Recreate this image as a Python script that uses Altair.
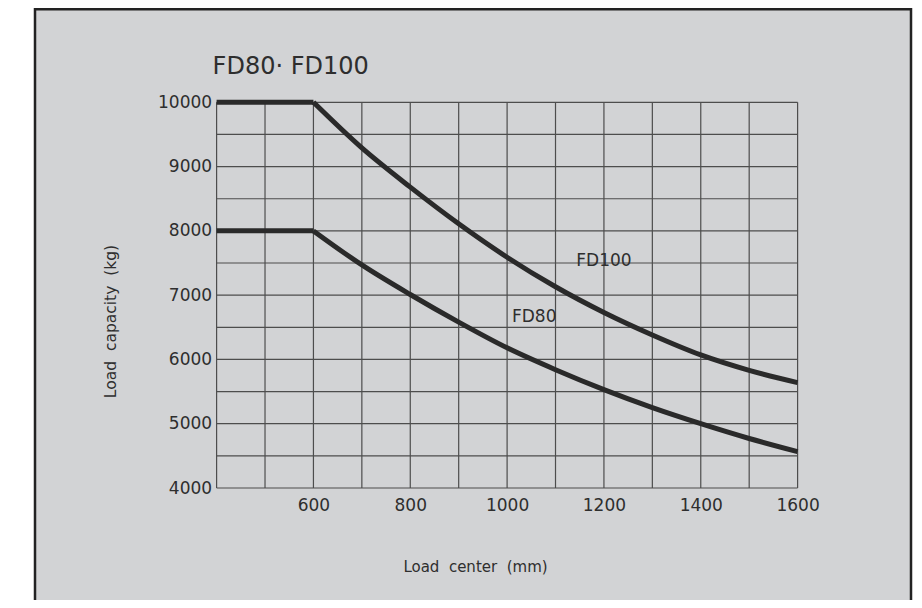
import altair as alt
import pandas as pd

# ---- data ----
load_center_mm = [400, 600, 700, 800, 900, 1000, 1100, 1200, 1300, 1400, 1500, 1600]
fd100_kg = [10000, 10000, 9290, 8680, 8110, 7590, 7130, 6730, 6380, 6070, 5830, 5640]
fd80_kg = [8000, 8000, 7470, 7010, 6580, 6180, 5840, 5530, 5250, 5000, 4770, 4565]

x_tick_labels = [600, 800, 1000, 1200, 1400, 1600]
y_tick_labels = [4000, 5000, 6000, 7000, 8000, 9000, 10000]
x_grid = [400, 500, 600, 700, 800, 900, 1000, 1100, 1200, 1300, 1400, 1500, 1600]
y_grid = [4000, 4500, 5000, 5500, 6000, 6500, 7000, 7500, 8000, 8500, 9000, 9500, 10000]

series_labels = ["FD100", "FD80"]
label_x = [1143, 1010]
label_y = [7450, 6580]

NB = "\u00a0"
x_title = f"Load {NB}center {NB}(mm)"
y_title = f"Load {NB}capacity {NB}(kg)"
main_title = "FD80· FD100"

# ---- styling ----
BG = "#d2d3d5"
INK = "#2a2a2a"
TXT = "#2e2e2e"
GRID = "#4d4d4d"
FONT = "DejaVu Sans"

rows = []
for name, vals in (("FD100", fd100_kg), ("FD80", fd80_kg)):
    for x, y in zip(load_center_mm, vals):
        if x <= 600:
            rows.append({"series": name, "seg": "flat", "x": x, "y": y})
        if x >= 600:
            rows.append({"series": name, "seg": "curve", "x": x, "y": y})
df = pd.DataFrame(rows)

xscale = alt.Scale(domain=[400, 1600], nice=False, zero=False)
yscale = alt.Scale(domain=[4000, 10000], nice=False, zero=False)

x_axis = alt.Axis(
    values=x_tick_labels, format="d", grid=False, ticks=False, domain=False, zindex=1,
    labelFlush=False, labelFontSize=17, labelPadding=9, labelColor=TXT, labelFont=FONT,
    title=x_title, titleX=258.4, titleY=83,
    titleBaseline="alphabetic", titleAlign="center",
    titleFontSize=15, titleFontWeight="normal", titleColor=TXT, titleFont=FONT,
)
y_axis = alt.Axis(
    values=y_tick_labels, format="d", grid=False, ticks=False, domain=False, zindex=1,
    labelFlush=False, labelFontSize=17, labelPadding=5, labelColor=TXT, labelFont=FONT,
    title=y_title, titleX=-101.6, titleY=218.7,
    titleBaseline="alphabetic", titleAlign="center",
    titleFontSize=15.5, titleFontWeight="normal", titleColor=TXT, titleFont=FONT,
)

X = alt.X("x:Q", scale=xscale, axis=x_axis)
Y = alt.Y("y:Q", scale=yscale, axis=y_axis)

frame = alt.Chart(alt.Data(values=[{"a": 1}])).mark_rect(
    fill=BG, stroke="#222222", strokeWidth=2.5
).encode(
    x=alt.value(-181.6), x2=alt.value(694.4), y=alt.value(-93), y2=alt.value(520)
)

vgrid = alt.Chart(pd.DataFrame({"x": x_grid})).mark_rule(
    color=GRID, strokeWidth=1.2
).encode(x=X)

hgrid = alt.Chart(pd.DataFrame({"y": y_grid})).mark_rule(
    color=GRID, strokeWidth=1.2
).encode(y=Y)

flat = alt.Chart(df).transform_filter(alt.datum.seg == "flat").mark_line(
    color=INK, strokeWidth=5, interpolate="linear"
).encode(x=X, y=Y, detail="series:N")

curve = alt.Chart(df).transform_filter(alt.datum.seg == "curve").mark_line(
    color=INK, strokeWidth=5, interpolate="monotone"
).encode(x=X, y=Y, detail="series:N")

labels = alt.Chart(pd.DataFrame({"name": series_labels, "x": label_x, "y": label_y})).mark_text(
    align="left", baseline="alphabetic", fontSize=17, font=FONT, color=TXT
).encode(x=X, y=Y, text="name:N")

chart = alt.layer(frame, vgrid, hgrid, flat, curve, labels).properties(
    width=581,
    height=385.7,
    title=alt.Title(
        main_title, anchor="start", frame="group", dx=-4, offset=-90,
        baseline="alphabetic", fontSize=24, fontWeight="normal", color=TXT, font=FONT,
    ),
    padding={"left": 208.6, "top": 94.3, "right": 116.4, "bottom": 112},
    autosize=alt.AutoSizeParams(type="none"),
).configure(background="white").configure_view(stroke=None)

chart.save("out.html", embed_options={"renderer": "svg", "actions": False})
